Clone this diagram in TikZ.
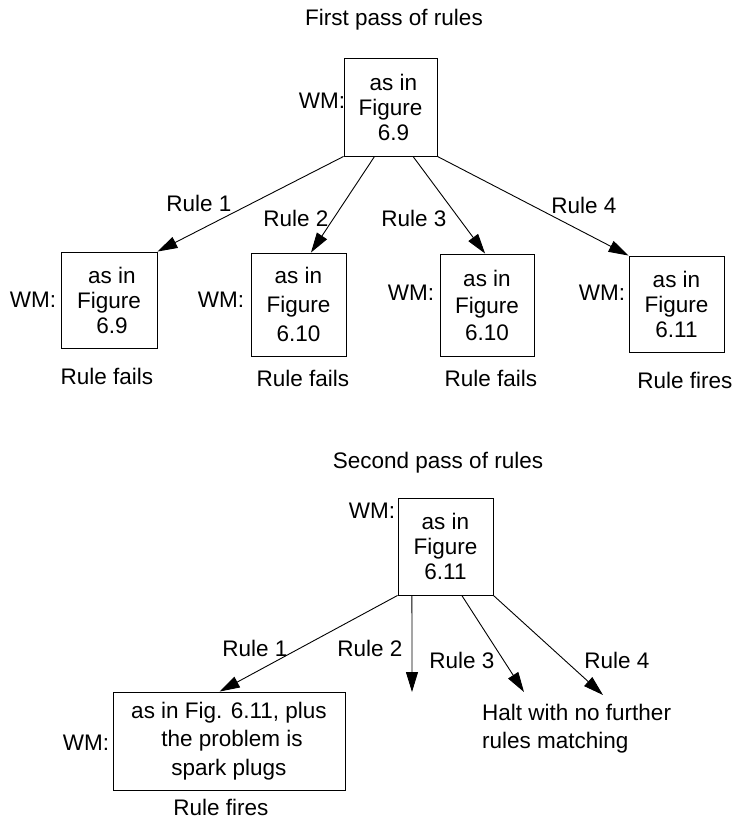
\documentclass[tikz,border=0pt]{standalone}
\usepackage{fontspec}
\setmainfont{Liberation Sans}
\usetikzlibrary{arrows.meta,calc}
\begin{document}
\begin{tikzpicture}[x=1pt,y=-1pt,
  every node/.style={font=\fontsize{22.5}{25}\selectfont, inner sep=0pt},
  wmbox/.style={draw, line width=0.9pt, align=center},
  lbl/.style={},
  conn/.style={line width=0.9pt, -{Triangle[length=20pt,width=12pt]}}
]
\useasboundingbox (0,0) rectangle (736,820);

% ---------- first pass ----------
\node[lbl] (title1) at (394,20) {First pass of rules};
\node[wmbox, minimum width=93pt, minimum height=98pt] (t1) at (390.5,107) {\hspace*{6pt}as in\\Figure\\\hspace*{6pt}6.9};
\node[lbl] (wm0) at (322,101) {WM:};

\node[wmbox, minimum width=96pt, minimum height=96pt] (b1) at (109,300) {\hspace*{6pt}as in\\Figure\\\hspace*{6pt}6.9};
\node[lbl] (wm1) at (33,300) {WM:};
\node[lbl] (rf1) at (107,376) {Rule fails};

\node[wmbox, minimum width=95pt, minimum height=103pt, font=\fontsize{22.5}{29}\selectfont] (b2) at (298.5,304.5) {as in\\Figure\\6.10};
\node[lbl] (wm2) at (221,300) {WM:};
\node[lbl] (rf2) at (303,378) {Rule fails};

\node[wmbox, minimum width=94pt, minimum height=102pt, font=\fontsize{22.5}{27}\selectfont] (b3) at (487,305) {as in\\Figure\\6.10};
\node[lbl] (wm3) at (411,293) {WM:};
\node[lbl] (rf3) at (491,378) {Rule fails};

\node[wmbox, minimum width=95pt, minimum height=96pt] (b4) at (676.5,304) {as in\\Figure\\6.11};
\node[lbl] (wm4) at (602,293) {WM:};
\node[lbl] (rf4) at (685,380) {Rule fires};

\draw[conn] (t1.south west) -- (b1.north east);
\draw[conn] ($(t1.south west)!0.33!(t1.south east)$) -- ($(b2.north west)!0.63!(b2.north east)$);
\draw[conn] ($(t1.south west)!0.74!(t1.south east)$) -- ($(b3.north west)!0.48!(b3.north east)$);
\draw[conn] (t1.south east) -- (b4.north west);

\node[lbl] (r1) at (199,203) {Rule 1};
\node[lbl] (r2) at (296,218) {Rule 2};
\node[lbl] (r3) at (414,218) {Rule 3};
\node[lbl] (r4) at (584,205) {Rule 4};

% ---------- second pass ----------
\node[lbl] (title2) at (438,463) {Second pass of rules};
\node[wmbox, minimum width=95pt, minimum height=97pt] (s1) at (445.5,546.5) {as in\\Figure\\6.11};
\node[lbl] (wm5) at (372,511) {WM:};

\node[wmbox, minimum width=232pt, minimum height=98pt, font=\fontsize{22.5}{28.5}\selectfont] (c1) at (229,741) {as in Fig. 6.11, plus\\\hspace*{6pt}the problem is\\spark plugs};
\node[lbl] (wm6) at (86,743) {WM:};
\node[lbl] (rf5) at (221,807) {Rule fires};

\coordinate (e2) at (412,692);
\coordinate (e3) at (524,692);
\coordinate (e4) at (603,695);
\node[lbl, anchor=west, align=left, font=\fontsize{22.5}{28}\selectfont] (halt) at (482,729) {Halt with no further\\rules matching};

\draw[conn] (s1.south west) -- ($(c1.north west)!0.46!(c1.north east)$);
\draw[conn] ($(s1.south west)!0.15!(s1.south east)$) -- (e2);
\draw[conn] ($(s1.south west)!0.67!(s1.south east)$) -- (e3);
\draw[conn] (s1.south east) -- (e4);

\node[lbl] (q1) at (255,648) {Rule 1};
\node[lbl] (q2) at (370,648) {Rule 2};
\node[lbl] (q3) at (462,660) {Rule 3};
\node[lbl] (q4) at (617,660) {Rule 4};
\end{tikzpicture}
\end{document}
